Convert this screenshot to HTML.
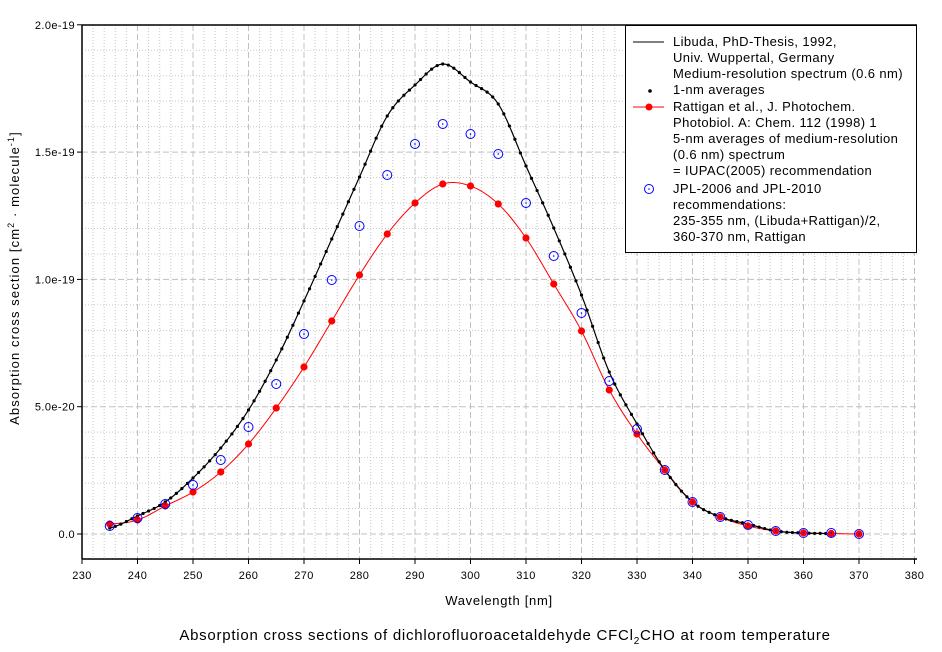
<!DOCTYPE html>
<html><head><meta charset="utf-8"><style>
html,body{margin:0;padding:0;background:#fff;}
svg{display:block;font-family:"Liberation Sans",Arial,sans-serif;}
</style></head><body>
<svg id="s" width="942" height="652" xmlns="http://www.w3.org/2000/svg">
<g id="grid"></g>
<g id="series"></g>
<line x1="82" y1="25" x2="917" y2="25" stroke="#000" stroke-width="1.5"/>
<line x1="82" y1="25" x2="82" y2="559" stroke="#000" stroke-width="1.5"/>
<line x1="82" y1="559" x2="917" y2="559" stroke="#000" stroke-width="1.5"/>
<g id="ticks" font-size="11" letter-spacing="0.4" fill="#000"></g>
<text x="499" y="605" font-size="13" letter-spacing="0.7" text-anchor="middle">Wavelength [nm]</text>
<text transform="translate(19,278) rotate(-90)" font-size="13" letter-spacing="1.1" text-anchor="middle">Absorption cross section [cm<tspan font-size="9" dy="-5">2</tspan><tspan dy="5"> · molecule</tspan><tspan font-size="9" dy="-5">-1</tspan><tspan dy="5">]</tspan></text>
<text x="505" y="640" font-size="15" letter-spacing="0.75" text-anchor="middle">Absorption cross sections of dichlorofluoroacetaldehyde CFCl<tspan font-size="10" dy="4">2</tspan><tspan dy="-4">CHO at room temperature</tspan></text>
<rect x="625.5" y="25.5" width="291" height="227" fill="#fff" stroke="#000" stroke-width="1"/>
<g font-size="13" letter-spacing="0.4" fill="#000">
<line x1="633" y1="42" x2="664" y2="42" stroke="#000"/>
<text x="673" y="46">Libuda, PhD-Thesis, 1992,</text>
<text x="673" y="62">Univ. Wuppertal, Germany</text>
<text x="673" y="78">Medium-resolution spectrum (0.6 nm)</text>
<circle cx="650" cy="91" r="1.8" fill="#000"/>
<text x="673" y="94">1-nm averages</text>
<line x1="633" y1="107" x2="664" y2="107" stroke="red"/>
<circle cx="649" cy="107" r="3.5" fill="red"/>
<text x="673" y="111">Rattigan et al., J. Photochem.</text>
<text x="673" y="127">Photobiol. A: Chem. 112 (1998) 1</text>
<text x="673" y="143">5-nm averages of medium-resolution</text>
<text x="673" y="159">(0.6 nm) spectrum</text>
<text x="673" y="175">= IUPAC(2005) recommendation</text>
<circle cx="649" cy="189" r="4.5" fill="none" stroke="blue"/><circle cx="649" cy="189" r="0.8" fill="blue"/>
<text x="673" y="193">JPL-2006 and JPL-2010</text>
<text x="673" y="209">recommendations:</text>
<text x="673" y="225">235-355 nm, (Libuda+Rattigan)/2,</text>
<text x="673" y="241">360-370 nm, Rattigan</text>
</g>
</svg>
<script>
var NS="http://www.w3.org/2000/svg";
function X(w){return 82+(w-230)*5.55;}
function el(p,t,a){var e=document.createElementNS(NS,t);for(var k in a)e.setAttribute(k,a[k]);p.appendChild(e);return e;}
var g=document.getElementById("grid"),tk=document.getElementById("ticks"),sr=document.getElementById("series");
for(var w=232;w<380;w+=2){if(w%10)el(g,"line",{x1:X(w),y1:25,x2:X(w),y2:559,stroke:"#c8c8c8","stroke-dasharray":"1,2"});}
for(var i=-1;i<=20;i++){if(i%5){var y=534-i*25.46;el(g,"line",{x1:82,y1:y,x2:917,y2:y,stroke:"#c8c8c8","stroke-dasharray":"1,2"});}}
for(var w=240;w<=380;w+=10)el(g,"line",{x1:X(w),y1:25,x2:X(w),y2:559,stroke:"#c0c0c0","stroke-dasharray":"6,3"});
for(var i=0;i<4;i++){var y=534-i*127.3;el(g,"line",{x1:82,y1:y,x2:917,y2:y,stroke:"#c0c0c0","stroke-dasharray":"6,3"});}
for(var w=230;w<=380;w+=10){el(tk,"line",{x1:X(w),y1:559,x2:X(w),y2:564,stroke:"#000"});var t=el(tk,"text",{x:X(w),y:579,"text-anchor":"middle"});t.textContent=w;}
var yl=["0.0","5.0e-20","1.0e-19","1.5e-19","2.0e-19"];
for(var i=0;i<5;i++){var y=534-i*127.3;el(tk,"line",{x1:77,y1:y,x2:82,y2:y,stroke:"#000"});var t=el(tk,"text",{x:75,y:y+4,"text-anchor":"end"});t.textContent=yl[i];}
var W=[235,240,245,250,255,260,265,270,275,280,285,290,295,300,305,310,315,320,325,330,335,340,345,350,355,360,365,370];
var R=[524,520,506,492,472,444,408,367,321,275,234,203,184,186,204,238,284,331,390,434,470,502,517,526,531,533,533.5,534];
var B=[526,518,504,485,460,427,384,334,280,226,175,144,124,134,154,203,256,313,381,429,470,502,517,525,531,533,533,534];
var K=[528,516,502,478,448,410,360,301,239,177,116,85,64,82,104,166,228,295,372,424,470,502,517,524,531,533,533.5];
function spl(P,x){
 var i=Math.min(Math.floor((x-235)/5),P.length-2);var t=(x-235)/5-i;
 var p0=P[Math.max(i-1,0)],p1=P[i],p2=P[i+1],p3=P[Math.min(i+2,P.length-1)];
 return 0.5*((2*p1)+(-p0+p2)*t+(2*p0-5*p1+4*p2-p3)*t*t+(-p0+3*p1-3*p2+p3)*t*t*t);}
var pr="";for(var x=235;x<=370;x+=0.5)pr+=X(x)+","+spl(R,x)+" ";
el(sr,"polyline",{points:pr,fill:"none",stroke:"red","stroke-width":1});
var pk="";for(var x=235;x<=364;x+=0.5)pk+=X(x)+","+spl(K,x)+" ";
el(sr,"polyline",{points:pk,fill:"none",stroke:"#000","stroke-width":1.2});
for(var x=235;x<=364;x++)el(sr,"circle",{cx:X(x),cy:spl(K,x),r:1.6,fill:"#000"});
for(var i=0;i<W.length;i++){el(sr,"circle",{cx:X(W[i]),cy:R[i],r:3.6,fill:"red"});}
for(var i=0;i<W.length;i++){el(sr,"circle",{cx:X(W[i]),cy:B[i],r:4.5,fill:"none",stroke:"blue","stroke-width":1});el(sr,"circle",{cx:X(W[i]),cy:B[i],r:0.8,fill:"blue"});}
</script>
</body></html>
